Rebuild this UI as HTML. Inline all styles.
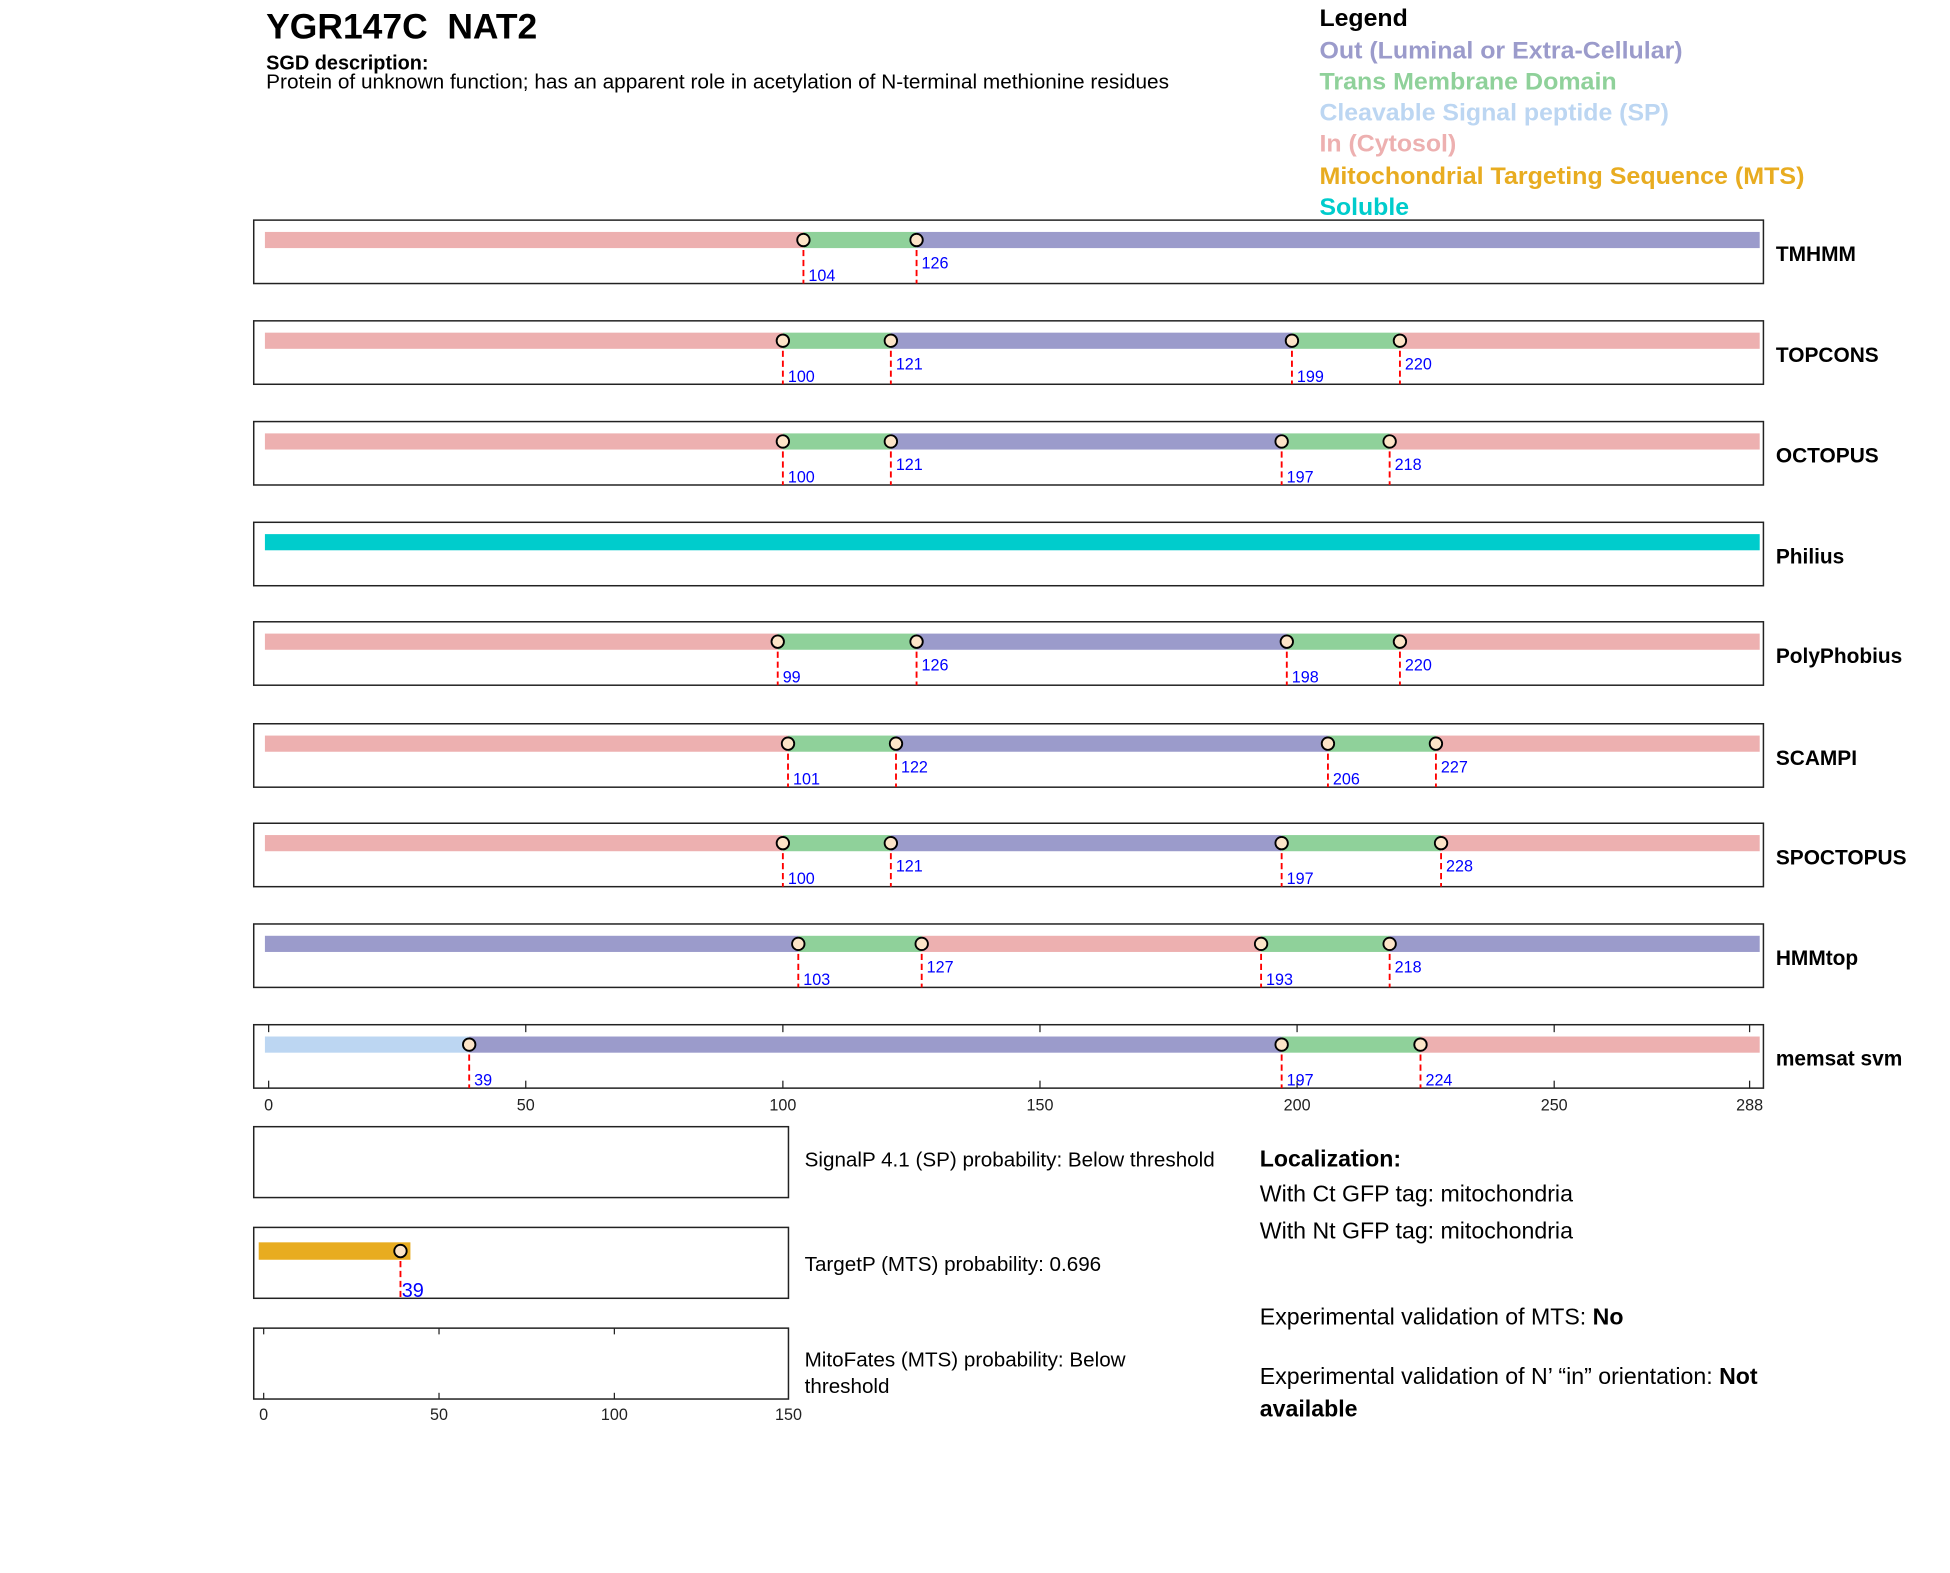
<!DOCTYPE html>
<html><head><meta charset="utf-8"><style>
html,body{margin:0;padding:0;background:#fff;width:1950px;height:1573px;overflow:hidden}
svg text{font-family:"Liberation Sans",Arial,sans-serif}
</style></head><body>
<svg id="s" xmlns="http://www.w3.org/2000/svg" width="1950" height="1573" viewBox="0 0 1568 1264.9">
<rect width="1568" height="1265" fill="#fff"/>
<text x="214" y="31" font-size="28" font-weight="bold" xml:space="preserve" textLength="218" lengthAdjust="spacingAndGlyphs">YGR147C  NAT2</text>
<text x="214" y="56" font-size="16" font-weight="bold">SGD description:</text>
<text x="214" y="71" font-size="16" textLength="726" lengthAdjust="spacingAndGlyphs">Protein of unknown function; has an apparent role in acetylation of N-terminal methionine residues</text>
<g font-size="19" font-weight="bold" lengthAdjust="spacingAndGlyphs">
<text x="1061" y="21" textLength="71" lengthAdjust="spacingAndGlyphs">Legend</text>
<text x="1061" y="47" fill="#9b9bcb" textLength="292" lengthAdjust="spacingAndGlyphs">Out (Luminal or Extra-Cellular)</text>
<text x="1061" y="72" fill="#8fd19a" textLength="239" lengthAdjust="spacingAndGlyphs">Trans Membrane Domain</text>
<text x="1061" y="97" fill="#bcd6f2" textLength="281" lengthAdjust="spacingAndGlyphs">Cleavable Signal peptide (SP)</text>
<text x="1061" y="122" fill="#edb0b0" textLength="110" lengthAdjust="spacingAndGlyphs">In (Cytosol)</text>
<text x="1061" y="148" fill="#e8ac20" textLength="390" lengthAdjust="spacingAndGlyphs">Mitochondrial Targeting Sequence (MTS)</text>
<text x="1061" y="173" fill="#00cccc" textLength="72" lengthAdjust="spacingAndGlyphs">Soluble</text>
</g>
<g id="tracks"></g>
<rect x="204" y="906" width="430" height="57" fill="none" stroke="#222" stroke-width="1.2"/>
<rect x="204" y="987" width="430" height="57" fill="none" stroke="#222" stroke-width="1.2"/>
<rect x="204" y="1068" width="430" height="57" fill="none" stroke="#222" stroke-width="1.2"/>
<rect x="208" y="999" width="122" height="14" fill="#e8ac20"/>
<line x1="322" y1="1006" x2="322" y2="1044" stroke="red" stroke-width="1.5" stroke-dasharray="5,3"/>
<circle cx="322" cy="1006" r="5" fill="#fde5c8" stroke="#000" stroke-width="1.5"/>
<text x="323" y="1043" font-size="16" fill="#0000ff">39</text>
<g stroke="#222" stroke-width="1">
<line x1="212" y1="1068" x2="212" y2="1073"/><line x1="353" y1="1068" x2="353" y2="1073"/><line x1="494" y1="1068" x2="494" y2="1073"/>
<line x1="212" y1="1125" x2="212" y2="1120"/><line x1="353" y1="1125" x2="353" y2="1120"/><line x1="494" y1="1125" x2="494" y2="1120"/>
</g>
<g font-size="13" text-anchor="middle" fill="#222">
<text x="212" y="1142">0</text><text x="353" y="1142">50</text><text x="494" y="1142">100</text><text x="634" y="1142">150</text>
</g>
<g font-size="16.6">
<text x="647" y="938">SignalP 4.1 (SP) probability: Below threshold</text>
<text x="647" y="1022">TargetP (MTS) probability: 0.696</text>
<text x="647" y="1099">MitoFates (MTS) probability: Below</text>
<text x="647" y="1120">threshold</text>
</g>
<g font-size="18.6">
<text x="1013" y="938" font-weight="bold">Localization:</text>
<text x="1013" y="966">With Ct GFP tag: mitochondria</text>
<text x="1013" y="996">With Nt GFP tag: mitochondria</text>
<text x="1013" y="1065">Experimental validation of MTS: <tspan font-weight="bold">No</tspan></text>
<text x="1013" y="1113">Experimental validation of N’ “in” orientation: <tspan font-weight="bold">Not</tspan></text>
<text x="1013" y="1139" font-weight="bold">available</text>
</g>
</svg>
<script>
var C={i:"#edb0b0",o:"#9b9bcb",t:"#8fd19a",s:"#bcd6f2",x:"#00cccc"};
function X(v){return 216+4.135*v;}
var T=[
["TMHMM",177,"ito",[104,126]],
["TOPCONS",258,"itoti",[100,121,199,220]],
["OCTOPUS",339,"itoti",[100,121,197,218]],
["Philius",420,"x",[]],
["PolyPhobius",500,"itoti",[99,126,198,220]],
["SCAMPI",582,"itoti",[101,122,206,227]],
["SPOCTOPUS",662,"itoti",[100,121,197,228]],
["HMMtop",743,"otito",[103,127,193,218]],
["memsat svm",824,"soti",[39,197,224]]
];
var h="";
T.forEach(function(t,k){
 var y=t[1],b=t[3],cy=y+16;
 h+='<rect x="204" y="'+y+'" width="1214" height="51" fill="none" stroke="#222" stroke-width="1.2"/>';
 var edges=[213].concat(b.map(X)).concat([1415]);
 for(var j=0;j<t[2].length;j++){h+='<rect x="'+edges[j]+'" y="'+(cy-6.5)+'" width="'+(edges[j+1]-edges[j])+'" height="13" fill="'+C[t[2][j]]+'"/>';}
 if(k==8){
  [0,50,100,150,200,250,288].forEach(function(v){var x=X(v);
   h+='<line x1="'+x+'" y1="'+y+'" x2="'+x+'" y2="'+(y+6)+'" stroke="#222"/><line x1="'+x+'" y1="'+(y+51)+'" x2="'+x+'" y2="'+(y+45)+'" stroke="#222"/>';
   h+='<text x="'+x+'" y="'+(y+69)+'" font-size="13" text-anchor="middle" fill="#222">'+v+'</text>';});
 }
 b.forEach(function(v,j){var x=X(v);
  h+='<line x1="'+x+'" y1="'+cy+'" x2="'+x+'" y2="'+(y+51)+'" stroke="red" stroke-width="1.5" stroke-dasharray="5,3"/>';
  h+='<circle cx="'+x+'" cy="'+cy+'" r="5" fill="#fde5c8" stroke="#000" stroke-width="1.5"/>';
  var ly=(k==8||j%2==0)?y+49:y+39;
  h+='<text x="'+(x+4)+'" y="'+ly+'" font-size="13" fill="#0000ff">'+v+'</text>';
 });
 h+='<text x="1428" y="'+(y+33)+'" font-size="16.8" font-weight="bold">'+t[0]+'</text>';
});
document.getElementById("tracks").innerHTML=h;
</script>
</body></html>
